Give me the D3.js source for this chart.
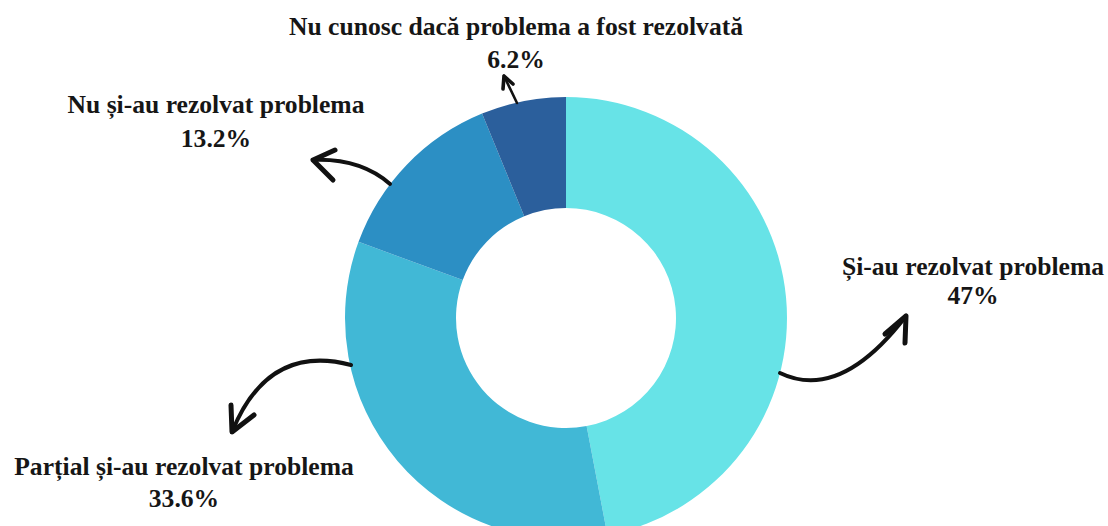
<!DOCTYPE html>
<html>
<head>
<meta charset="utf-8">
<script src="https://cdn.jsdelivr.net/npm/d3@7"></script>
<style>
  body { margin: 0; background: #fff; }
</style>
</head>
<body>
<div id="chart"></div>
<script>
// data
let categories = ["Și-au rezolvat problema", "Parțial și-au rezolvat problema", "Nu și-au rezolvat problema", "Nu cunosc dacă problema a fost rezolvată"];
let values = [47, 33.6, 13.2, 6.2];
let value_labels = ["47%", "33.6%", "13.2%", "6.2%"];
let colors = ["#67e3e7", "#41b8d6", "#2c8fc4", "#2b5f9c"];

let width = 1108, height = 526;
let cx = 566, cy = 318;
let outer_r = 221, inner_r = 110;

// label anchor (center x, baseline of first line, gap to second line)
let label_pos = [[973, 275, 29], [184, 475, 32], [216, 113, 34], [516, 35, 33]];

// hand drawn arrows pointing from the ring to each label
let arrows = [
  {d: "M 780 373 Q 840 402 906 316", head: [[885, 334], [906, 316], [905, 343]], w: 4},
  {d: "M 351 365 Q 268 343 232 432", head: [[231, 405], [232, 432], [254, 415]], w: 4},
  {d: "M 390 184 Q 360 158 313 160", head: [[335, 150], [313, 160], [333, 180]], w: 4},
  {d: "M 517 103 L 504 76", head: [[513, 84], [504, 76], [503, 89]], w: 2.6}
];

let svg = d3.select("#chart")
            .append("svg")
            .attr("width", width)
            .attr("height", height);

let pie = d3.pie().sort(null).value(d => d);
let arc = d3.arc().innerRadius(inner_r).outerRadius(outer_r);

let g = svg.append("g")
           .attr("transform", "translate(" + cx + "," + cy + ")");

g.selectAll("path")
  .data(pie(values))
  .enter()
  .append("path")
  .attr("d", arc)
  .style("fill", (d, i) => colors[i]);

// arrows
arrows.forEach(function(a) {
  svg.append("path")
     .attr("d", a.d)
     .style("fill", "none")
     .style("stroke", "#111")
     .style("stroke-width", a.w)
     .style("stroke-linecap", "round");
  svg.append("path")
     .attr("d", d3.line()(a.head))
     .style("fill", "none")
     .style("stroke", "#111")
     .style("stroke-width", a.w + 1)
     .style("stroke-linecap", "round")
     .style("stroke-linejoin", "round");
});

// labels
let labels = svg.selectAll(".label")
  .data(categories)
  .enter()
  .append("g")
  .attr("class", "label")
  .attr("transform", (d, i) => "translate(" + label_pos[i][0] + "," + label_pos[i][1] + ")");

labels.append("text")
  .attr("text-anchor", "middle")
  .style("font-family", "'Liberation Serif', 'Times New Roman', serif")
  .style("font-weight", "bold")
  .style("font-size", "25.6px")
  .style("fill", "#161616")
  .text(d => d);

labels.append("text")
  .attr("text-anchor", "middle")
  .attr("y", (d, i) => label_pos[i][2])
  .style("font-family", "'Liberation Serif', 'Times New Roman', serif")
  .style("font-weight", "bold")
  .style("font-size", "25.6px")
  .style("fill", "#161616")
  .text((d, i) => value_labels[i]);
</script>
</body>
</html>
